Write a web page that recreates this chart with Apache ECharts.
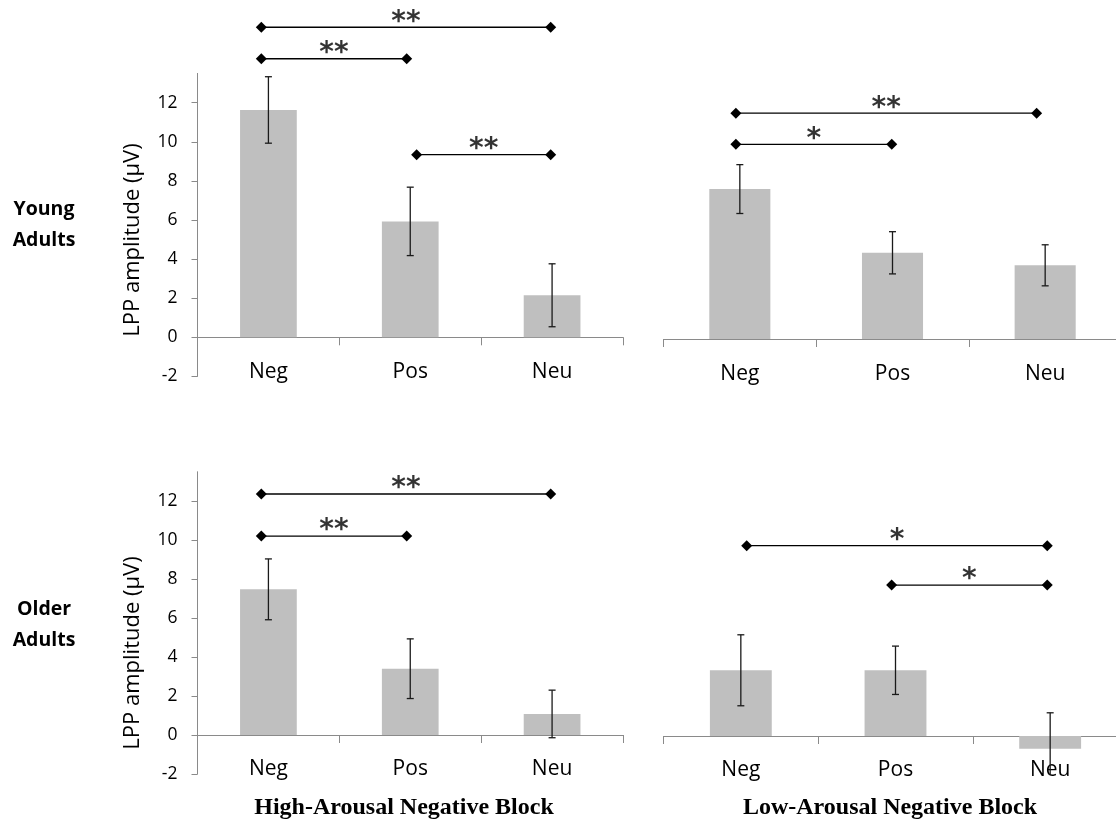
<!DOCTYPE html>
<html>
<head>
<meta charset="utf-8">
<script src="https://cdn.jsdelivr.net/npm/echarts@6/dist/echarts.min.js"></script>
<style>
html,body{margin:0;padding:0;background:#fff;}
#chart{width:1116px;height:822px;}
</style>
</head>
<body>
<div id="chart"></div>
<script>
// ---- data ----
var categories = ['Neg', 'Pos', 'Neu'];
var yTicks = [-2, 0, 2, 4, 6, 8, 10, 12];

var youngHighMean = [11.63, 5.93, 2.15];
var youngHighErr  = [1.70, 1.75, 1.61];
var youngLowMean  = [7.67, 4.41, 3.77];
var youngLowErr   = [1.25, 1.08, 1.05];
var olderHighMean = [7.47, 3.40, 1.08];
var olderHighErr  = [1.56, 1.53, 1.22];
var olderLowMean  = [3.37, 3.37, -0.66];
var olderLowErr   = [1.82, 1.24, 1.85];

// significance brackets: [xStart, xEnd, y, label] (x in category units, 0..3)
var youngHighSig = [[0.45, 2.49, 15.86, '**'], [0.45, 1.475, 14.25, '**'], [1.545, 2.49, 9.34, '**']];
var youngLowSig  = [[0.474, 2.444, 11.55, '**'], [0.474, 1.495, 9.96, '*']];
var olderHighSig = [[0.45, 2.49, 12.36, '**'], [0.45, 1.475, 10.2, '**']];
var olderLowSig  = [[0.538, 2.481, 9.76, '*'], [1.475, 2.481, 7.74, '*']];

var yAxisName = 'LPP amplitude (\u03bcV)';
var rowLabels = [['Young', 'Adults'], ['Older', 'Adults']];
var blockTitles = ['High-Arousal Negative Block', 'Low-Arousal Negative Block'];

// ---- layout ----
var panels = [
  {grid: {left: 197.5, top: 73.4, width: 425.5, height: 303}, mean: youngHighMean, err: youngHighErr, sig: youngHighSig, showY: true},
  {grid: {left: 663.5, top: 75.1, width: 458, height: 303}, mean: youngLowMean, err: youngLowErr, sig: youngLowSig, showY: false},
  {grid: {left: 197.5, top: 471.75, width: 425.5, height: 302.25}, mean: olderHighMean, err: olderHighErr, sig: olderHighSig, showY: true},
  {grid: {left: 663.5, top: 472.75, width: 464, height: 302.25}, mean: olderLowMean, err: olderLowErr, sig: olderLowSig, showY: false}
];

var FONT = 'Open Sans';
var AXIS_COLOR = '#8a8a8a';
var grids = [], xAxes = [], yAxes = [], series = [];

panels.forEach(function (p, i) {
  grids.push(Object.assign({outerBoundsMode: 'none', containLabel: false}, p.grid));
  xAxes.push({
    type: 'category', gridIndex: i, data: categories,
    axisLine: {show: true, onZero: true, lineStyle: {color: AXIS_COLOR, width: 1}},
    axisTick: {show: true, length: 8, lineStyle: {color: AXIS_COLOR}},
    axisLabel: {show: true, color: '#000', fontFamily: FONT, fontSize: 21, margin: -15},
    splitLine: {show: false}
  });
  yAxes.push({
    type: 'value', gridIndex: i, min: -2, max: 13.5, interval: 2,
    show: p.showY,
    axisLine: {show: true, lineStyle: {color: AXIS_COLOR, width: 1}},
    axisTick: {show: true, length: 6, inside: false, lineStyle: {color: AXIS_COLOR}, customValues: yTicks},
    axisLabel: {show: true, color: '#000', fontFamily: FONT, fontSize: 17.5, margin: 20, customValues: yTicks},
    splitLine: {show: false}
  });
});
panels.forEach(function (p, i) {
  xAxes.push({type: 'value', gridIndex: i, min: 0, max: 3, show: false});
});

panels.forEach(function (p, i) {
  series.push({
    type: 'bar', xAxisIndex: i, yAxisIndex: i, data: p.mean,
    barWidth: '40%', itemStyle: {color: '#bfbfbf'}, silent: true, z: 2
  });
  series.push({
    type: 'custom', xAxisIndex: i, yAxisIndex: i, z: 4, silent: true,
    data: p.mean.map(function (m, k) { return [k, m, p.err[k]]; }),
    encode: {x: 0, y: 1},
    renderItem: function (params, api) {
      var k = api.value(0), m = api.value(1), e = api.value(2);
      var hi = api.coord([k, m + e]);
      var lo = api.coord([k, m - e]);
      var cs = params.coordSys;
      var bottom = cs.y + cs.height, top = cs.y;
      var yHi = Math.max(hi[1], top), yLo = Math.min(lo[1], bottom);
      var x = hi[0], cap = 3.5;
      var st = {stroke: '#1a1a1a', lineWidth: 1.3};
      var children = [{type: 'line', shape: {x1: x, y1: yHi, x2: x, y2: yLo}, style: st}];
      if (hi[1] >= top) children.push({type: 'line', shape: {x1: x - cap, y1: yHi, x2: x + cap, y2: yHi}, style: st});
      if (lo[1] <= bottom) children.push({type: 'line', shape: {x1: x - cap, y1: yLo, x2: x + cap, y2: yLo}, style: st});
      return {type: 'group', children: children};
    }
  });
  p.sig.forEach(function (s) {
    series.push({
      type: 'line', xAxisIndex: 4 + i, yAxisIndex: i, clip: false, silent: true, z: 5,
      data: [[s[0], s[2]], [s[1], s[2]]],
      symbol: 'diamond', symbolSize: 11, showSymbol: true,
      itemStyle: {color: '#000'}, lineStyle: {color: '#000', width: 1.3},
      animation: false
    });
  });
  series.push({
    type: 'scatter', xAxisIndex: 4 + i, yAxisIndex: i, clip: false, silent: true, z: 6,
    data: p.sig.map(function (s) { return {value: [(s[0] + s[1]) / 2, s[2]], name: s[3]}; }),
    symbolSize: 1, itemStyle: {color: 'rgba(0,0,0,0)'},
    label: {show: true, position: 'inside', offset: [0, -5], formatter: '{b}', color: '#000',
            fontFamily: 'DejaVu Sans', fontWeight: 'bold', fontSize: 28, lineHeight: 30},
    animation: false
  });
});

var graphics = [];
[240, 653].forEach(function (cy) {
  graphics.push({type: 'text', x: 133, y: cy, rotation: Math.PI / 2,
    style: {text: yAxisName, font: '22px "Open Sans"', fill: '#000', textAlign: 'center', textVerticalAlign: 'middle'}});
});
[[209, 240], [609, 640]].forEach(function (ys, r) {
  ys.forEach(function (yy, j) {
    graphics.push({type: 'text', x: 44, y: yy,
      style: {text: rowLabels[r][j], font: 'bold 19.5px "Open Sans"', fill: '#000', textAlign: 'center', textVerticalAlign: 'middle'}});
  });
});
[[404, 808], [890, 808]].forEach(function (pt, j) {
  graphics.push({type: 'text', x: pt[0], y: pt[1],
    style: {text: blockTitles[j], font: 'bold 24px "Liberation Serif"', fill: '#000', textAlign: 'center', textVerticalAlign: 'middle'}});
});

var chart = echarts.init(document.getElementById('chart'), null, {renderer: 'canvas'});
chart.setOption({
  backgroundColor: '#fff',
  animation: false,
  grid: grids, xAxis: xAxes, yAxis: yAxes, series: series,
  graphic: graphics
});
</script>
</body>
</html>
